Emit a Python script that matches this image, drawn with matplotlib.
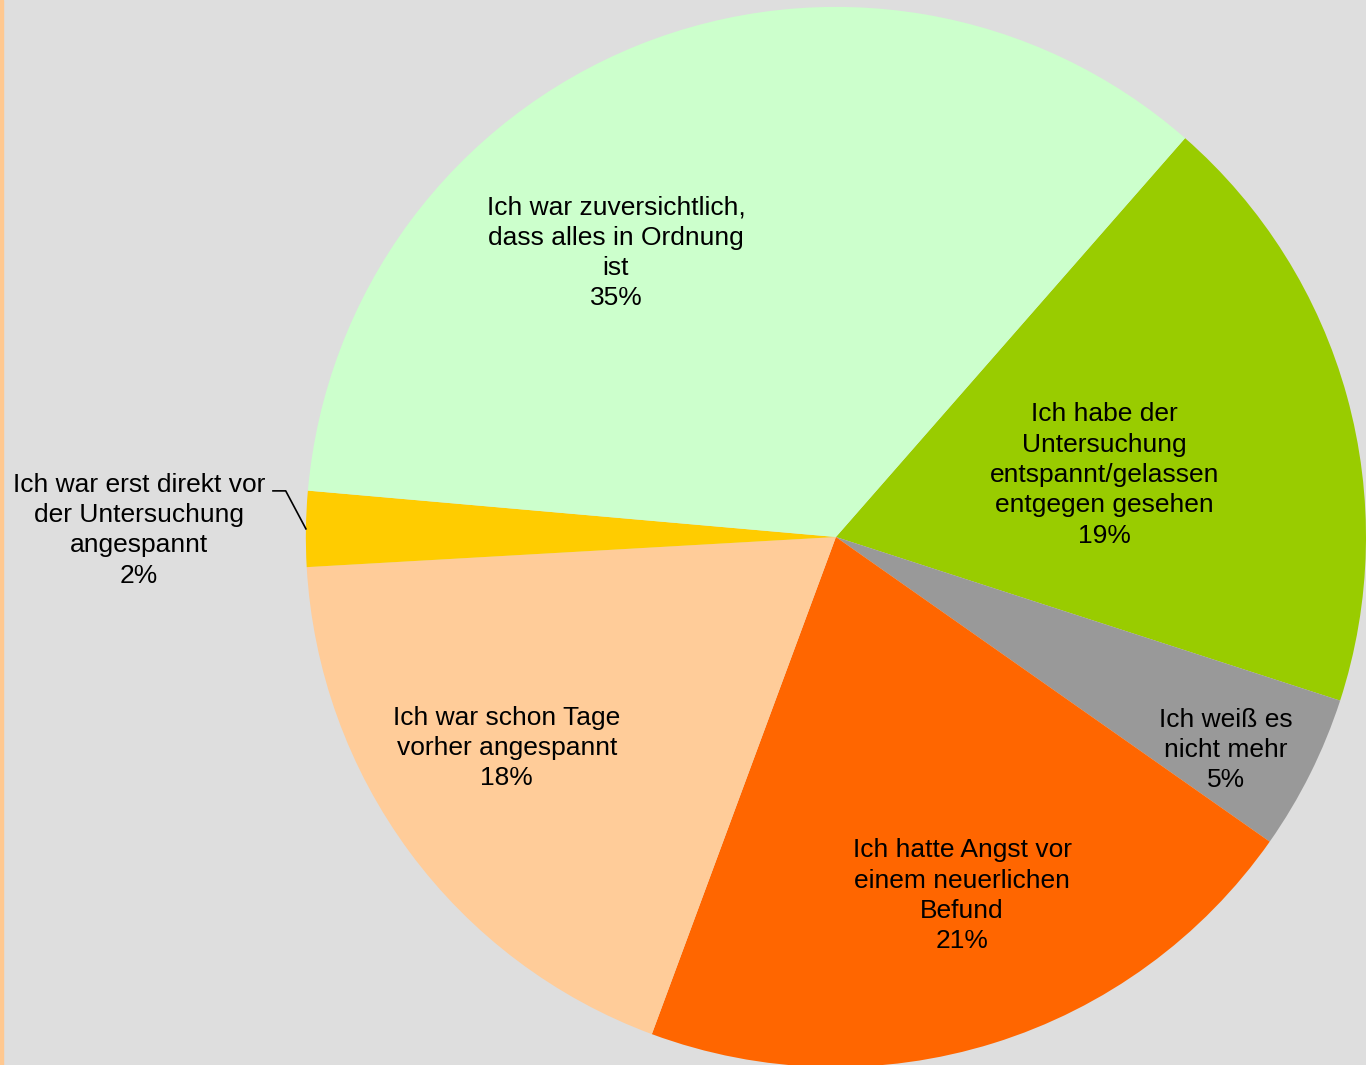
import matplotlib
matplotlib.use('Agg')
import numpy as np
import matplotlib.pyplot as plt

# Anteile in Prozent, im Uhrzeigersinn
kategorien = ['Ich habe der\nUntersuchung\nentspannt/gelassen\nentgegen gesehen',
              'Ich weiß es\nnicht mehr',
              'Ich hatte Angst vor\neinem neuerlichen\nBefund',
              'Ich war schon Tage\nvorher angespannt',
              'Ich war erst direkt vor\nder Untersuchung\nangespannt',
              'Ich war zuversichtlich,\ndass alles in Ordnung\nist']
werte = [18.55, 4.75, 20.9, 18.45, 2.3, 35.05]
farben = ['#99CC00', '#999999', '#FF6600', '#FFCC99', '#FFCC00', '#CCFFCC']

# Beschriftungspositionen (Datenkoordinaten, Radius 1)
label_pos = [(0.506, 0.117), (0.736, -0.402), (0.238, -0.677),
             (-0.621, -0.398), (-1.315, 0.013), (-0.415, 0.536)]

plt.rcParams['font.family'] = ['Liberation Sans', 'DejaVu Sans']

fig = plt.figure(figsize=(13.66, 10.65), dpi=100)
fig.patch.set_facecolor('#DEDEDE')
ax = fig.add_axes([0, 0, 1, 1])
ax.set_facecolor('#DEDEDE')

wedges, _ = ax.pie(werte, colors=farben, startangle=48.8, counterclock=False,
                   radius=1.0, wedgeprops=dict(linewidth=0))

summe = sum(werte)
for w, kat, wert, pos in zip(wedges, kategorien, werte, label_pos):
    ax.text(pos[0], pos[1], f"{kat}\n{round(wert / summe * 100):.0f}%",
            ha='center', va='center', fontsize=19, linespacing=1.33, color='black')

# Führungslinie zum kleinen Segment
w = wedges[4]
mitte = np.deg2rad((w.theta1 + w.theta2) / 2)
ax.plot([-1.062, -1.038, np.cos(mitte) * 1.0], [0.087, 0.087, np.sin(mitte)],
        color='black', lw=1.2)

ax.set_xlim(-1.577, 1.0)
ax.set_ylim(-0.996, 1.013)
ax.set_aspect('auto')
ax.axis('off')

# schmaler Rand links
fig.patches.append(plt.Rectangle((0, 0), 3 / 1366, 1, transform=fig.transFigure,
                                 color='#FFC890', zorder=10))

fig.savefig('out.png', dpi=100, facecolor=fig.get_facecolor())
